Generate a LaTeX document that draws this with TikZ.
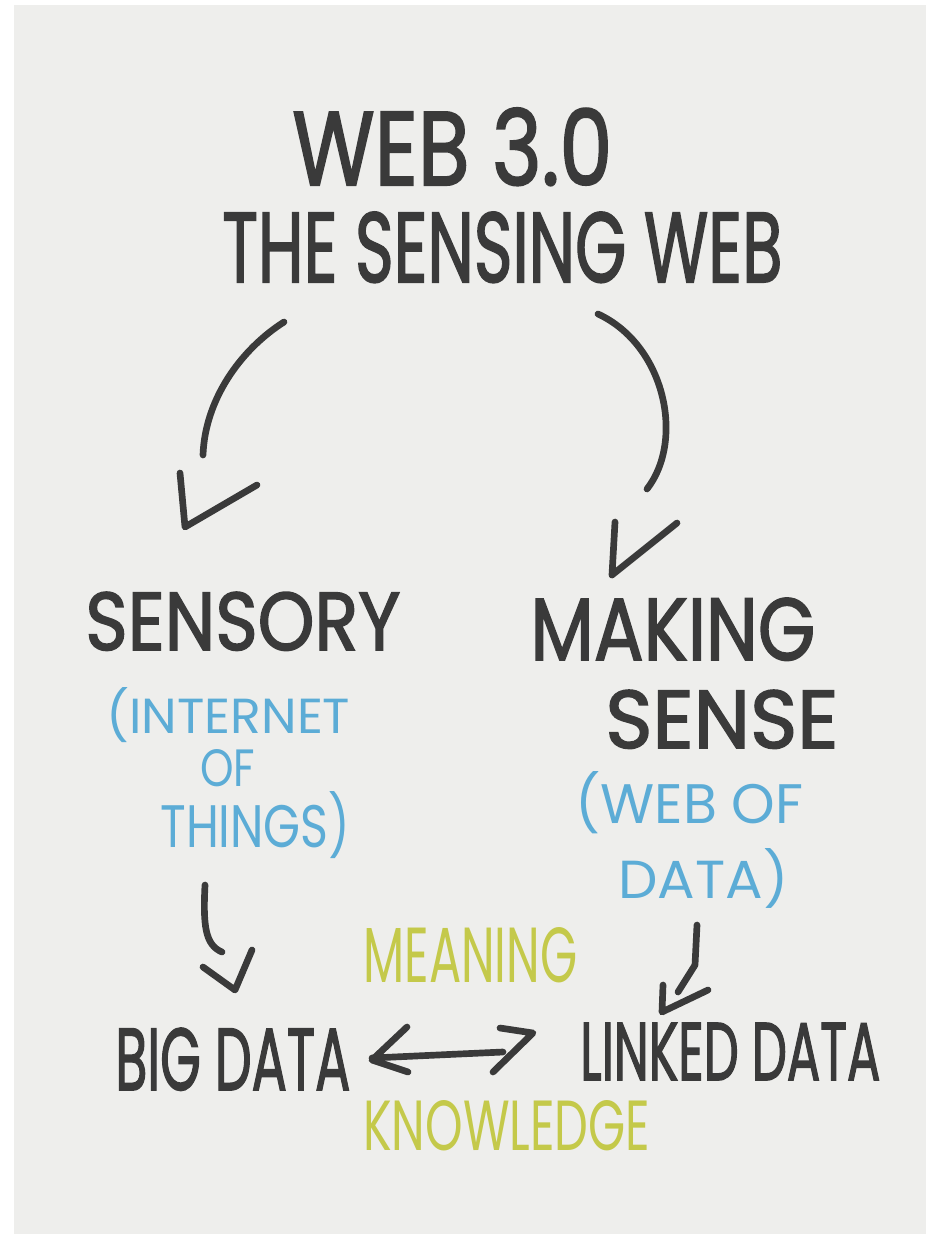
\documentclass[tikz,border=0pt]{standalone}
\usepackage{fontspec}
\setmainfont{Poppins}
\newfontfamily\inkfont{Poppins}[BoldFont=Poppins, BoldFeatures={FakeBold=2}]
\usepackage{graphicx}
\usetikzlibrary{positioning}
\definecolor{ink}{RGB}{58,58,58}
\definecolor{sky}{RGB}{92,172,214}
\definecolor{lime}{RGB}{196,201,74}
\definecolor{paper}{RGB}{238,238,236}
\newlength\pxu
\setlength\pxu{0.02cm}
% text squeezed into a box of w x h pixels
\newcommand{\hand}[3]{\resizebox{#1\pxu}{#2\pxu}{\inkfont #3}}

\begin{document}
\begin{tikzpicture}[x=0.02cm, y=-0.02cm,
  pen/.style={line width=3.8pt, line cap=round, line join=round, ink},
  word/.style={inner sep=0pt, anchor=base west},
  heavy/.style={word, ink, font=\bfseries}]
\useasboundingbox (0,0) rectangle (926,1234);
\fill[white] (0,0) rectangle (926,1234);
\fill[paper] (14,5) rectangle (926,1234);
% ---- title
\node[heavy] (title) at (292,185) {\hand{320}{77}{WEB 3.0}};
\node[heavy] (subtitle) at (222,282) {\hand{560}{70}{THE SENSING WEB}};
% ---- two branches
\node[heavy] (sensory) at (85,650) {\hand{315}{58}{SENSORY}};
\node[heavy] (making) at (530,660) {\hand{285}{62}{MAKING}};
\node[heavy] (sense) at (605,748) {\hand{233}{58}{SENSE}};
\node[word, sky] (iot1) at (106,733) {\hand{244}{46}{(INTERNET}};
\node[word, sky] (iot2) at (200,786) {\hand{55}{37}{OF}};
\node[word, sky] (iot3) at (160,847) {\hand{190}{56}{THINGS)}};
\node[word, sky] (wod1) at (575,823) {\hand{228}{52}{(WEB OF}};
\node[word, sky] (wod2) at (618,898) {\hand{170}{50}{DATA)}};
% ---- bottom row
\node[heavy] (bigdata) at (115,1090) {\hand{235}{62}{BIG DATA}};
\node[heavy] (linked) at (580,1080) {\hand{300}{57}{LINKED DATA}};
\node[word, lime] (meaning) at (363,982) {\hand{214}{55}{MEANING}};
\node[word, lime] (knowledge) at (363,1150) {\hand{287}{50}{KNOWLEDGE}};
% ---- arrows, drawn by hand
\draw[pen] (284,322) .. controls (240,350) and (205,400) .. (203,455);
\draw[pen] (180,473) -- (185,527) -- (257,485);
\draw[pen] (598,314) .. controls (665,345) and (685,440) .. (647,489);
\draw[pen] (615,522) -- (612,575) -- (677,523);
\draw[pen] (205,885) .. controls (203,925) and (205,945) .. (222,952);
\draw[pen] (203,967) -- (235,990) -- (252,950);
\draw[pen] (697,925) -- (695,965) -- (678,992);
\draw[pen] (663,985) -- (662,1012) -- (708,990);
\draw[pen] (372,1058) -- (503,1052);
\draw[pen] (407,1027) -- (372,1060) -- (408,1072);
\draw[pen] (500,1028) -- (533,1033) -- (493,1072);
\end{tikzpicture}
\end{document}
